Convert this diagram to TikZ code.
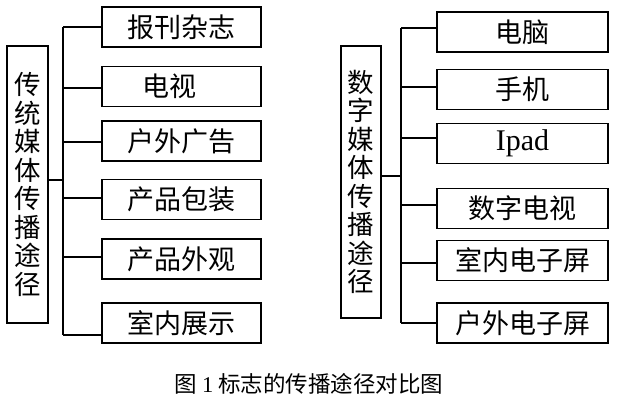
\documentclass[tikz,border=0pt]{standalone}
\usepackage{fontspec}
\setmainfont{Noto Sans CJK SC}
\newfontfamily\lat{Liberation Serif}
\begin{document}
\begin{tikzpicture}[x=1pt,y=-1pt,
  leaf/.style={draw,line width=1.3pt,minimum height=40pt,inner sep=0pt,font=\fontsize{27}{29}\selectfont},
  tall/.style={draw,line width=1.3pt,inner sep=0pt,align=center,font=\fontsize{26.5}{28.5}\selectfont},
  conn/.style={line width=1.1pt}]
\useasboundingbox (0,0) rectangle (623,411);
% left
\node[tall,minimum width=41pt,minimum height=277pt] (L) at (27.5,184.5) {传\\统\\媒\\体\\传\\播\\途\\径};
\node[leaf,minimum width=159pt] (a1) at (181.5,27) {报刊杂志};
\node[leaf,minimum width=159pt] (a2) at (181.5,86.5) {\hspace*{-24pt}电视};
\node[leaf,minimum width=159pt] (a3) at (181.5,141) {户外广告};
\node[leaf,minimum width=159pt] (a4) at (181.5,199.5) {产品包装};
\node[leaf,minimum width=159pt] (a5) at (181.5,259) {产品外观};
\node[leaf,minimum width=159pt] (a6) at (181.5,323) {室内展示};
\coordinate (lt) at (63,27);
\coordinate (lb) at (63,335);
\coordinate (lm) at (63,180);
\draw[conn] (lt) -- (lb);
\draw[conn] (L.east |- lm) -- (lm);
\foreach \n/\y in {a1/27,a2/88,a3/142,a4/198,a5/257,a6/335}
  \draw[conn] (63,\y) -- (\n.west |- 0,\y);
% right
\node[tall,minimum width=40pt,minimum height=272pt] (R) at (361,182) {数\\字\\媒\\体\\传\\播\\途\\径};
\node[leaf,minimum width=171pt] (r1) at (522.5,32) {电脑};
\node[leaf,minimum width=171pt] (r2) at (522.5,89.5) {手机};
\node[leaf,minimum width=171pt] (r3) at (522.5,143.5) {\lat\fontsize{30}{32}\selectfont Ipad};
\node[leaf,minimum width=171pt] (r4) at (522.5,208.5) {数字电视};
\node[leaf,minimum width=171pt] (r5) at (522.5,260.5) {室内电子屏};
\node[leaf,minimum width=171pt] (r6) at (522.5,323) {户外电子屏};
\coordinate (rt) at (401,28);
\coordinate (rb) at (401,323);
\coordinate (rm) at (401,176);
\draw[conn] (rt) -- (rb);
\draw[conn] (R.east |- rm) -- (rm);
\foreach \n/\y in {r1/28,r2/87,r3/138,r4/205,r5/263,r6/323}
  \draw[conn] (401,\y) -- (\n.west |- 0,\y);
% caption
\node[font=\fontsize{22.5}{24}\selectfont] (cap) at (309,384) {图 {\lat 1} 标志的传播途径对比图};
\end{tikzpicture}
\end{document}
